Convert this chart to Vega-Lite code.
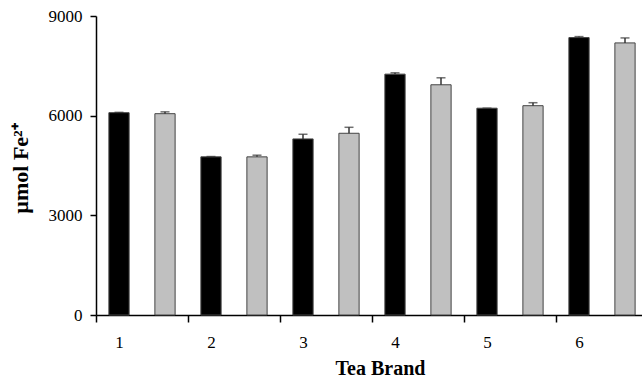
{
  "$schema": "https://vega.github.io/schema/vega-lite/v6.json",
  "width": 546,
  "height": 299,
  "autosize": {"type": "none"},
  "padding": {"left": 96, "top": 16, "right": 0, "bottom": 62},
  "background": "white",
  "config": {
    "view": {"stroke": null},
    "font": "Liberation Serif",
    "axis": {
      "labelFont": "Liberation Serif",
      "titleFont": "Liberation Serif",
      "labelColor": "#000",
      "titleColor": "#000",
      "domainColor": "#000",
      "tickColor": "#000",
      "domainWidth": 1.5,
      "tickWidth": 1.5,
      "grid": false
    }
  },
  "data": {
    "values": [
      {"brand": "1", "series": "s1", "value": 6090, "high": 6100},
      {"brand": "1", "series": "s2", "value": 6060, "high": 6115},
      {"brand": "2", "series": "s1", "value": 4760, "high": 4770},
      {"brand": "2", "series": "s2", "value": 4760, "high": 4810},
      {"brand": "3", "series": "s1", "value": 5300, "high": 5440},
      {"brand": "3", "series": "s2", "value": 5470, "high": 5650},
      {"brand": "4", "series": "s1", "value": 7250, "high": 7290},
      {"brand": "4", "series": "s2", "value": 6930, "high": 7140},
      {"brand": "5", "series": "s1", "value": 6225, "high": 6225},
      {"brand": "5", "series": "s2", "value": 6300, "high": 6390},
      {"brand": "6", "series": "s1", "value": 8350, "high": 8380},
      {"brand": "6", "series": "s2", "value": 8190, "high": 8340}
    ]
  },
  "encoding": {
    "x": {
      "field": "brand",
      "type": "ordinal",
      "scale": {"range": [0, 552], "paddingInner": 0, "paddingOuter": 0},
      "axis": {
        "title": "Tea Brand",
        "labelAngle": 0,
        "labelFontSize": 17,
        "labelOffset": -23,
        "labelPadding": 12,
        "tickBand": "extent",
        "tickSize": 7,
        "titleFontSize": 20,
        "titleFontWeight": "bold",
        "titleX": 284,
        "titleY": 43,
        "titleBaseline": "top",
        "titleAnchor": null
      }
    },
    "xOffset": {
      "field": "series",
      "type": "nominal",
      "scale": {"paddingInner": 0.56, "paddingOuter": 0.28}
    }
  },
  "layer": [
    {
      "mark": {"type": "bar", "stroke": "#444", "strokeWidth": 1},
      "encoding": {
        "y": {
          "field": "value",
          "type": "quantitative",
          "scale": {"domain": [0, 9000], "nice": false},
          "axis": {
            "values": [0, 3000, 6000, 9000],
            "format": "d",
            "labelFontSize": 17,
            "labelPadding": 8,
            "tickSize": 6,
            "title": "µmol Fe²⁺",
            "titleFontSize": 22,
            "titleFontWeight": "bold",
            "titleX": -76,
            "titleY": 152,
            "titleAngle": -90,
            "titleAlign": "center",
            "titleBaseline": "middle"
          }
        },
        "color": {
          "field": "series",
          "type": "nominal",
          "scale": {"range": ["#000000", "#c0c0c0"]},
          "legend": null
        }
      }
    },
    {
      "mark": {"type": "rule", "color": "#333", "strokeWidth": 1.5},
      "encoding": {
        "y": {"field": "value", "type": "quantitative"},
        "y2": {"field": "high"}
      }
    },
    {
      "mark": {"type": "tick", "color": "#333", "size": 9, "thickness": 1.5},
      "encoding": {
        "y": {"field": "high", "type": "quantitative"}
      }
    }
  ]
}
